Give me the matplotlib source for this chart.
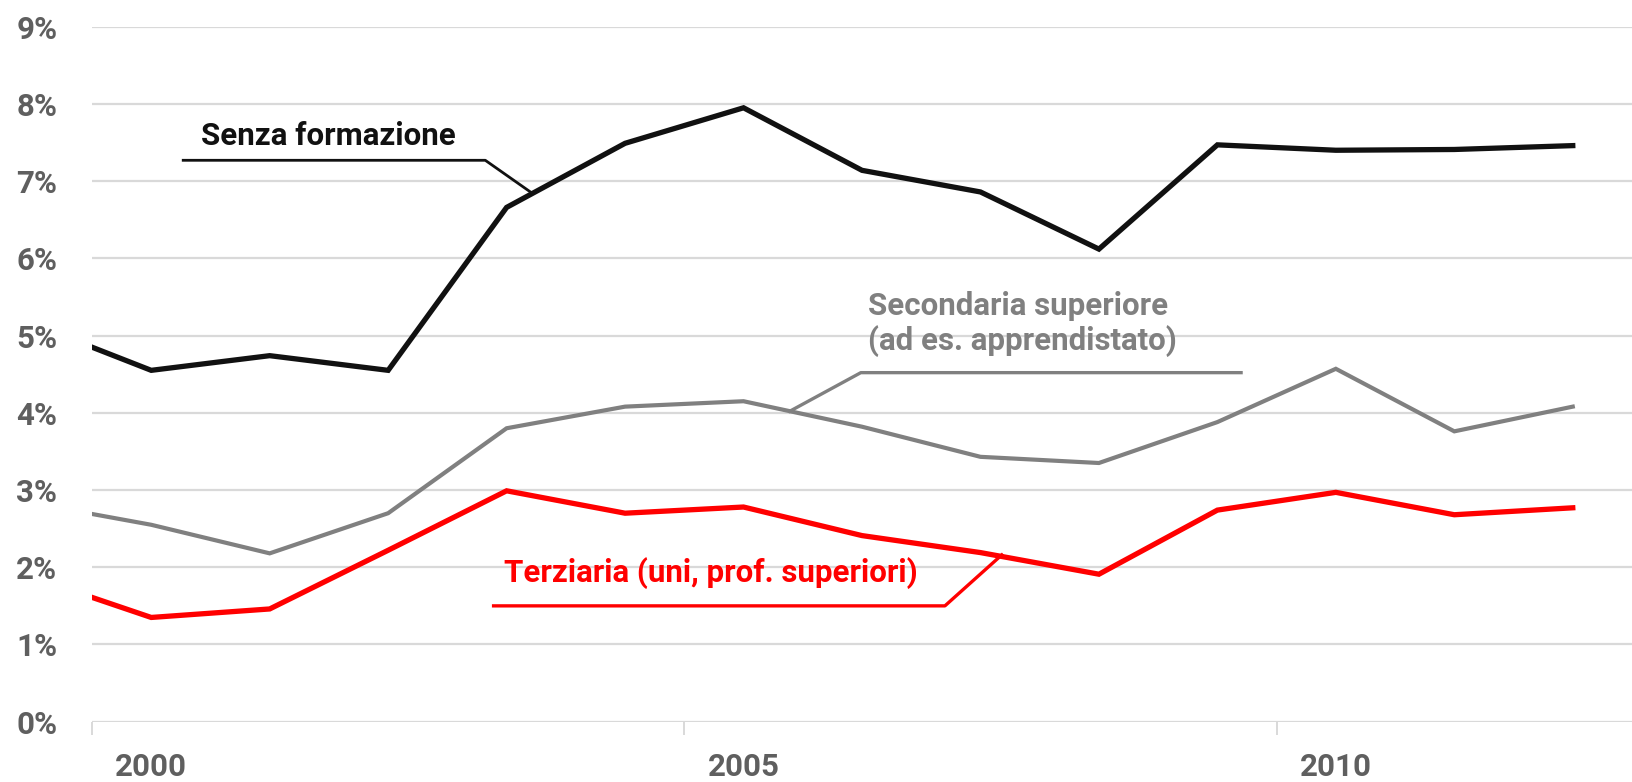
import matplotlib
matplotlib.use("Agg")
import matplotlib.pyplot as plt
from matplotlib.ticker import FixedLocator, FuncFormatter

plt.rcParams['font.family'] = ['Roboto', 'DejaVu Sans']

years = list(range(1999, 2013))
senza = [5.15, 4.55, 4.74, 4.55, 6.66, 7.49, 7.95, 7.14, 6.86, 6.12, 7.47, 7.40, 7.41, 7.46]
secondaria = [2.83, 2.55, 2.18, 2.70, 3.80, 4.08, 4.15, 3.82, 3.43, 3.35, 3.88, 4.57, 3.76, 4.08]
terziaria = [1.87, 1.35, 1.46, 2.22, 2.99, 2.70, 2.78, 2.41, 2.19, 1.91, 2.74, 2.97, 2.68, 2.77]

label_senza = "Senza formazione"
label_sec = "Secondaria superiore\n(ad es. apprendistato)"
label_ter = "Terziaria (uni, prof. superiori)"

yticks = list(range(0, 10))
xtick_labels = [2000, 2005, 2010]
xtick_marks = [1999.5, 2004.5, 2009.5]

c_black = '#111111'
c_gray = '#808080'
c_red = '#ff0000'
c_tick = '#5f5f5f'

fig = plt.figure(figsize=(16.33, 7.82), dpi=100)
ax = fig.add_axes([92/1633, 1 - 721.7/782, 1540/1633, (721.7 - 26.7)/782])

for y in yticks:
    ax.axhline(y, color='#d9d9d9', lw=1.6, zorder=1)

ax.plot(years, secondaria, color=c_gray, lw=3.0, zorder=3, solid_joinstyle='miter')
ax.plot(years, terziaria, color=c_red, lw=3.8, zorder=4, solid_joinstyle='miter')
ax.plot(years, senza, color=c_black, lw=3.8, zorder=5, solid_joinstyle='miter')

ax.set_xlim(1999.5, 2012.5)
ax.set_ylim(0, 9)

for s in ax.spines.values():
    s.set_visible(False)

ax.yaxis.set_major_locator(FixedLocator(yticks))
ax.yaxis.set_major_formatter(FuncFormatter(lambda v, p: f"{int(v)}%"))
ax.tick_params(axis='y', length=0, pad=25, labelsize=22.5, labelcolor=c_tick)
for t in ax.get_yticklabels():
    t.set_fontweight('bold')

ax.xaxis.set_major_locator(FixedLocator(xtick_marks))
ax.xaxis.set_major_formatter(FuncFormatter(lambda v, p: ""))
ax.xaxis.set_minor_locator(FixedLocator(xtick_labels))
ax.xaxis.set_minor_formatter(FuncFormatter(lambda v, p: f"{int(round(v))}"))
ax.tick_params(axis='x', which='major', length=9, width=1.4, color='#d9d9d9', direction='out')
ax.tick_params(axis='x', which='minor', length=0, pad=22, labelsize=22.5, labelcolor=c_tick)
for t in ax.get_xticklabels(minor=True):
    t.set_fontweight('bold')

# Annotations
ax.plot([2000.27, 2002.82, 2003.21], [7.27, 7.27, 6.85], color=c_black, lw=2.0, zorder=6)
ax.text(2000.42, 7.59, label_senza, color=c_black, fontsize=22.5, fontweight='bold', va='center', ha='left')

ax.plot([2005.39, 2005.99, 2009.20], [4.02, 4.52, 4.52], color=c_gray, lw=2.4, zorder=6)
ax.text(2006.05, 5.15, label_sec, color=c_gray, fontsize=22.5, fontweight='bold', va='center', ha='left', linespacing=1.2)

ax.plot([2002.89, 2006.70, 2007.18], [1.50, 1.50, 2.16], color=c_red, lw=2.4, zorder=6)
ax.text(2002.98, 1.93, label_ter, color=c_red, fontsize=22.5, fontweight='bold', va='center', ha='left')

fig.savefig('out.png', dpi=100)
